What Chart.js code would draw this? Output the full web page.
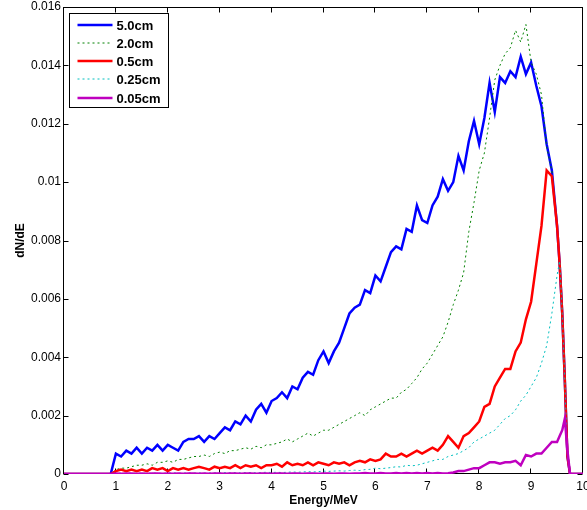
<!DOCTYPE html>
<html lang="en">
<head>
    <meta charset="UTF-8">
    <title>dN/dE spectrum</title>
    <script src="https://cdn.jsdelivr.net/npm/chart.js"></script>
    <style>
        html, body { margin: 0; padding: 0; background: #fff; }
    </style>
</head>
<body>
    <canvas id="spectrum" width="587" height="510"></canvas>

    <script>
        // energy grid (MeV)
        const energy = [
            0, 0.1, 0.2, 0.3, 0.4, 0.5, 0.6, 0.7, 0.8, 0.9,
            1.0, 1.1, 1.2, 1.3, 1.4, 1.5, 1.6, 1.7, 1.8, 1.9,
            2.0, 2.1, 2.2, 2.3, 2.4, 2.5, 2.6, 2.7, 2.8, 2.9,
            3.0, 3.1, 3.2, 3.3, 3.4, 3.5, 3.6, 3.7, 3.8, 3.9,
            4.0, 4.1, 4.2, 4.3, 4.4, 4.5, 4.6, 4.7, 4.8, 4.9,
            5.0, 5.1, 5.2, 5.3, 5.4, 5.5, 5.6, 5.7, 5.8, 5.9,
            6.0, 6.1, 6.2, 6.3, 6.4, 6.5, 6.6, 6.7, 6.8, 6.9,
            7.0, 7.1, 7.2, 7.3, 7.4, 7.5, 7.6, 7.7, 7.8, 7.9,
            8.0, 8.1, 8.2, 8.3, 8.4, 8.5, 8.6, 8.7, 8.8, 8.9,
            9.0, 9.1, 9.2, 9.3, 9.4, 9.5,
            9.55, 9.6, 9.65, 9.7, 9.75, 9.8, 9.9, 10.0
        ];

        // dN/dE for each thickness
        const cm50 = [
            0, 0, 0, 0, 0, 0, 0, 0, 0, 0,
            0.0007, 0.0006, 0.0008, 0.0007, 0.0009, 0.0007, 0.0009, 0.0008, 0.0010, 0.0008,
            0.0010, 0.0009, 0.0008, 0.0011, 0.0012, 0.0012, 0.0013, 0.0011, 0.0013, 0.0012,
            0.0014, 0.0016, 0.0015, 0.0018, 0.0017, 0.0020, 0.0018, 0.0022, 0.0024, 0.0021,
            0.0025, 0.0026, 0.0028, 0.0026, 0.0030, 0.0029, 0.0033, 0.0035, 0.0034, 0.0039,
            0.0042, 0.0038, 0.0042, 0.0045, 0.0050, 0.0055, 0.0057, 0.0058, 0.0063, 0.0062,
            0.0068, 0.0066, 0.0071, 0.0076, 0.0078, 0.0077, 0.0084, 0.0083, 0.0092, 0.0087,
            0.0086, 0.0092, 0.0095, 0.0101, 0.0097, 0.0100, 0.0109, 0.0104, 0.0114, 0.0121,
            0.0113, 0.0122, 0.0134, 0.0124, 0.0136, 0.0134, 0.0138, 0.0136, 0.0143, 0.0137,
            0.0141, 0.0133, 0.0126, 0.0113, 0.0104, 0.0085,
            0.0072, 0.0055, 0.0032, 0.0006, 0, 0, 0, 0
        ];
        const cm20 = [
            0, 0, 0, 0, 0, 0, 0, 0, 0, 0,
            0.00015, 0.0002, 0.0002, 0.00025, 0.0003, 0.0003, 0.00035, 0.0003, 0.0004, 0.0004,
            0.00045, 0.0004, 0.0005, 0.0005, 0.00055, 0.0006, 0.0006, 0.00065, 0.0006, 0.0007,
            0.00075, 0.0007, 0.0008, 0.0008, 0.00085, 0.0009, 0.00085, 0.00095, 0.0009, 0.0010,
            0.0010, 0.00105, 0.0011, 0.0012, 0.0011, 0.0012, 0.0013, 0.0014, 0.0013, 0.0014,
            0.0015, 0.0015, 0.0016, 0.0017, 0.0018, 0.0019, 0.0020, 0.0021, 0.0020, 0.0022,
            0.0023, 0.0024, 0.0025, 0.0026, 0.0026, 0.0028, 0.0029, 0.0031, 0.0033, 0.0036,
            0.0038, 0.0041, 0.0044, 0.0047, 0.0052, 0.0058, 0.0063, 0.0069, 0.0083, 0.0093,
            0.0104, 0.0110, 0.0122, 0.0135, 0.0140, 0.0144, 0.0146, 0.0152, 0.0148, 0.0154,
            0.0141, 0.0137, 0.0130, 0.0112, 0.0104, 0.0085,
            0.0072, 0.0055, 0.0032, 0.0006, 0, 0, 0, 0
        ];
        const cm05 = [
            0, 0, 0, 0, 0, 0, 0, 0, 0, 0,
            0.0001, 0.00015, 0.0001, 0.00015, 0.0001, 0.00015, 0.0001, 0.0002, 0.00015, 0.0002,
            0.0001, 0.0002, 0.00015, 0.0002, 0.00015, 0.0002, 0.00025, 0.0002, 0.00015, 0.00025,
            0.0002, 0.00025, 0.0002, 0.0003, 0.0002, 0.0003, 0.00025, 0.0003, 0.0002, 0.0003,
            0.0003, 0.00035, 0.00025, 0.0004, 0.0003, 0.00035, 0.0003, 0.0004, 0.0003, 0.0004,
            0.00035, 0.0003, 0.0004, 0.00035, 0.0004, 0.0003, 0.0004, 0.00045, 0.0004, 0.0005,
            0.00045, 0.0005, 0.0007, 0.0006, 0.0006, 0.0007, 0.0006, 0.0007, 0.0008, 0.0007,
            0.0008, 0.0009, 0.0008, 0.0010, 0.0013, 0.0011, 0.0009, 0.0013, 0.0014, 0.0016,
            0.0018, 0.0023, 0.0024, 0.0030, 0.0033, 0.0036, 0.0036, 0.0042, 0.0045, 0.0053,
            0.0059, 0.0072, 0.0085, 0.0104, 0.0102, 0.0085,
            0.0072, 0.0055, 0.0032, 0.0006, 0, 0, 0, 0
        ];
        const cm025 = [
            0, 0, 0, 0, 0, 0, 0, 0, 0, 0,
            0.00002, 0.00003, 0.00002, 0.00003, 0.00002, 0.00003, 0.00002, 0.00003, 0.00003, 0.00002,
            0.00003, 0.00004, 0.00003, 0.00003, 0.00004, 0.00003, 0.00004, 0.00003, 0.00004, 0.00004,
            0.00004, 0.00005, 0.00004, 0.00005, 0.00004, 0.00005, 0.00005, 0.00004, 0.00005, 0.00006,
            0.00005, 0.00006, 0.00005, 0.00006, 0.00007, 0.00006, 0.00007, 0.00008, 0.00007, 0.00008,
            0.0001, 0.00009, 0.0001, 0.00011, 0.0001, 0.00012, 0.00013, 0.00012, 0.00015, 0.00016,
            0.0002, 0.00018, 0.0002, 0.00022, 0.00025, 0.00024, 0.0003, 0.00028, 0.0003, 0.00035,
            0.0004, 0.00045, 0.0005, 0.0005, 0.0006, 0.00065, 0.0007, 0.0008, 0.0009, 0.0011,
            0.0012, 0.0013, 0.0014, 0.0015, 0.0017, 0.0019, 0.0020, 0.0022, 0.0025, 0.0027,
            0.0030, 0.0033, 0.0038, 0.0044, 0.0055, 0.0068,
            0.0073, 0.0055, 0.0032, 0.0006, 0, 0, 0, 0
        ];
        const cm005 = [
            0, 0, 0, 0, 0, 0, 0, 0, 0, 0,
            0.00002, 0.00001, 0.00002, 0.00002, 0.00001, 0.00002, 0.00001, 0.00002, 0.00002, 0.00001,
            0.00002, 0.00001, 0.00002, 0.00001, 0.00002, 0.00002, 0.00001, 0.00002, 0.00001, 0.00002,
            0.00002, 0.00001, 0.00002, 0.00002, 0.00001, 0.00002, 0.00002, 0.00001, 0.00002, 0.00002,
            0.00001, 0.00002, 0.00002, 0.00001, 0.00002, 0.00002, 0.00001, 0.00002, 0.00002, 0.00001,
            0.00002, 0.00002, 0.00001, 0.00002, 0.00002, 0.00001, 0.00002, 0.00002, 0.00003, 0.00002,
            0.00002, 0.00003, 0.00002, 0.00002, 0.00003, 0.00002, 0.00003, 0.00002, 0.00003, 0.00002,
            0.00003, 0.00002, 0.00003, 0.00002, 0.00003, 0.00005, 0.0001, 0.0001, 0.00015, 0.0002,
            0.0002, 0.0003, 0.0004, 0.0004, 0.00035, 0.0004, 0.0004, 0.00045, 0.0003, 0.00065,
            0.0006, 0.0007, 0.0007, 0.0009, 0.0011, 0.0011,
            0.0013, 0.0015, 0.0019, 0.0008, 0, 0, 0, 0
        ];

        const labels = ['5.0cm', '2.0cm', '0.5cm', '0.25cm', '0.05cm'];
        const xTicks = [0, 1, 2, 3, 4, 5, 6, 7, 8, 9, 10];
        const yTicks = [0, 0.002, 0.004, 0.006, 0.008, 0.01, 0.012, 0.014, 0.016];

        const FONT = '"Liberation Sans", Arial, Helvetica, sans-serif';

        function toPoints(values) {
            return energy.map((e, i) => ({ x: e, y: values[i] }));
        }

        // matlab style box with inward ticks, drawn under the curves
        const axesBox = {
            id: 'axesBox',
            beforeDatasetsDraw(chart) {
                const { ctx, chartArea: a, scales } = chart;
                const L = Math.round(a.left) - 0.5, R = Math.round(a.right) - 0.5;
                const T = Math.round(a.top) + 0.5, B = Math.round(a.bottom) - 0.5;
                ctx.save();
                ctx.strokeStyle = '#000';
                ctx.lineWidth = 1;
                ctx.strokeRect(L, T, R - L, B - T);
                ctx.beginPath();
                xTicks.forEach(v => {
                    const px = Math.round(scales.x.getPixelForValue(v)) - 0.5;
                    ctx.moveTo(px, B); ctx.lineTo(px, B - 5);
                    ctx.moveTo(px, T); ctx.lineTo(px, T + 5);
                });
                yTicks.forEach(v => {
                    const py = Math.round(scales.y.getPixelForValue(v)) + 0.5;
                    ctx.moveTo(L, py); ctx.lineTo(L + 5, py);
                    ctx.moveTo(R, py); ctx.lineTo(R - 5, py);
                });
                ctx.stroke();
                ctx.restore();
            }
        };

        // legend box in the upper left corner of the axes
        const boxLegend = {
            id: 'boxLegend',
            afterDatasetsDraw(chart) {
                const { ctx, chartArea: a } = chart;
                const x0 = Math.round(a.left) + 5.5, y0 = Math.round(a.top) + 6.5;
                const w = 99, h = 94, rowH = 18.3;
                ctx.save();
                ctx.fillStyle = '#fff';
                ctx.fillRect(x0, y0, w, h);
                ctx.strokeStyle = '#000';
                ctx.lineWidth = 1;
                ctx.strokeRect(x0, y0, w, h);
                chart.data.datasets.forEach((ds, i) => {
                    const y = Math.round(y0 + 11 + i * rowH);
                    ctx.strokeStyle = ds.borderColor;
                    ctx.lineWidth = ds.borderWidth;
                    ctx.setLineDash(ds.borderDash || []);
                    ctx.beginPath();
                    ctx.moveTo(x0 + 8, y);
                    ctx.lineTo(x0 + 43, y);
                    ctx.stroke();
                    ctx.setLineDash([]);
                    ctx.fillStyle = '#000';
                    ctx.font = 'bold 13px ' + FONT;
                    ctx.textBaseline = 'middle';
                    ctx.fillText(ds.label, x0 + 47, y + 1);
                });
                ctx.restore();
            }
        };

        const styles = [
            { color: '#0000ff', width: 2.5, dash: [] },
            { color: '#008000', width: 1, dash: [2, 3] },
            { color: '#ff0000', width: 2.5, dash: [] },
            { color: '#00bfbf', width: 1, dash: [2, 3] },
            { color: '#bf00bf', width: 2.5, dash: [] }
        ];
        const seriesValues = [cm50, cm20, cm05, cm025, cm005];

        const datasets = seriesValues.map((vals, i) => ({
            label: labels[i],
            data: toPoints(vals),
            borderColor: styles[i].color,
            backgroundColor: styles[i].color,
            borderWidth: styles[i].width,
            borderDash: styles[i].dash,
            pointRadius: 0,
            tension: 0,
            fill: false,
            order: seriesValues.length - i   // later series drawn on top
        }));

        new Chart(document.getElementById('spectrum').getContext('2d'), {
            type: 'line',
            data: { datasets: datasets },
            options: {
                responsive: false,
                animation: false,
                layout: { padding: { top: 7, right: 4, left: 0, bottom: 0 } },
                plugins: {
                    legend: { display: false },
                    tooltip: { enabled: false }
                },
                scales: {
                    x: {
                        type: 'linear',
                        min: 0,
                        max: 10,
                        grid: { display: false, drawTicks: false },
                        border: { display: false },
                        afterBuildTicks: s => { s.ticks = xTicks.map(v => ({ value: v })); },
                        ticks: {
                            padding: 5,
                            color: '#000',
                            maxRotation: 0,
                            autoSkip: false,
                            font: { family: FONT, size: 12 },
                            callback: v => String(v)
                        },
                        title: {
                            display: true,
                            text: 'Energy/MeV',
                            color: '#000',
                            font: { family: FONT, size: 12, weight: 'bold' },
                            padding: { top: 0, bottom: 2 }
                        },
                        afterFit: s => { s.height = 36; s.paddingLeft = 0; s.paddingRight = 0; }
                    },
                    y: {
                        min: 0,
                        max: 0.016,
                        grid: { display: false, drawTicks: false },
                        border: { display: false },
                        afterBuildTicks: s => { s.ticks = yTicks.map(v => ({ value: v })); },
                        ticks: {
                            padding: 3,
                            color: '#000',
                            autoSkip: false,
                            font: { family: FONT, size: 12 },
                            callback: v => String(+v.toFixed(3))
                        },
                        title: {
                            display: true,
                            text: 'dN/dE',
                            color: '#000',
                            font: { family: FONT, size: 12, weight: 'bold' },
                            padding: { top: 13, bottom: 0 }
                        },
                        afterFit: s => { s.width = 64; s.paddingTop = 0; s.paddingBottom = 0; }
                    }
                }
            },
            plugins: [axesBox, boxLegend]
        });
    </script>
</body>
</html>
